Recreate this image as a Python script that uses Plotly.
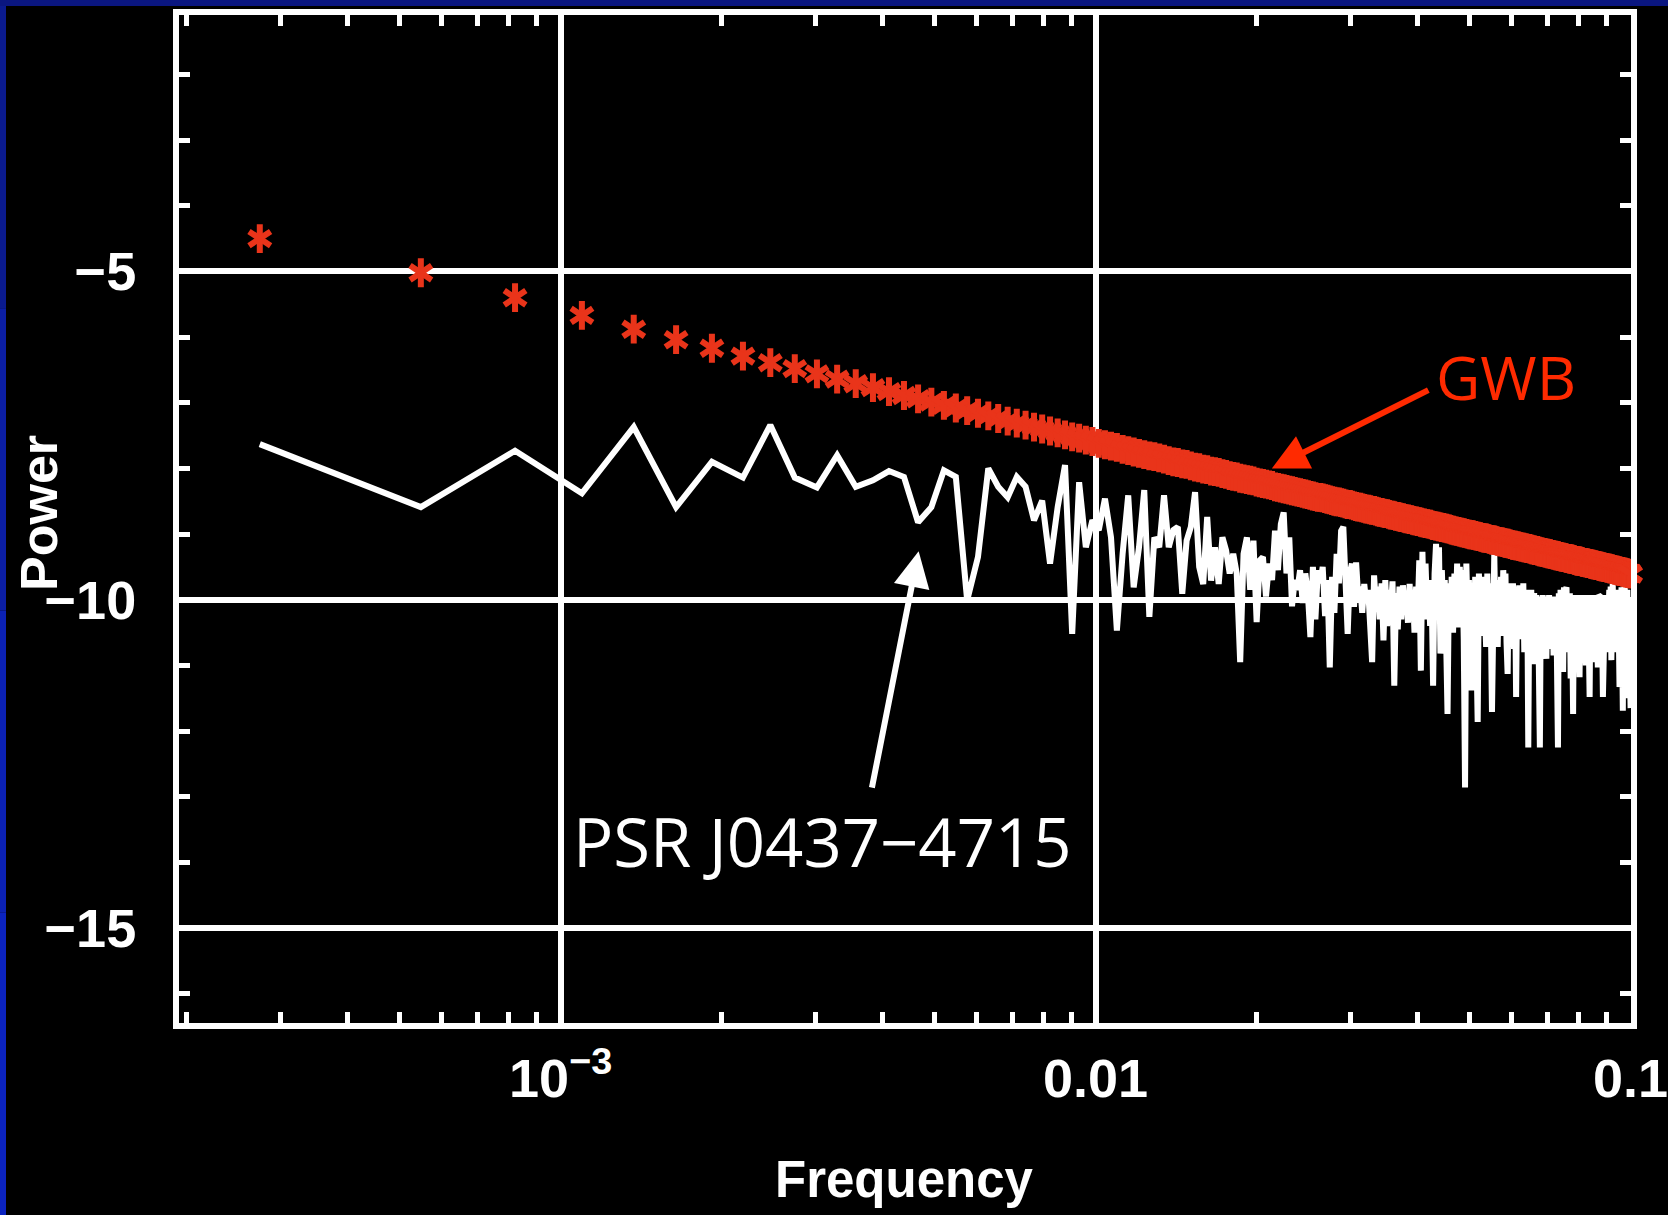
import math
import plotly.graph_objects as go

# Periodogram harmonics: k / T with T = 3650 days
SPAN_DAYS = 3650.0
harmonic = list(range(1, 366))
freq = [k / SPAN_DAYS for k in harmonic]

# log power of the pulsar timing residuals, one value per harmonic
psr_power = [
    -7.63, -8.59, -7.73, -8.38, -7.37, -8.59, -7.90, -8.14, -7.34, -8.14,
    -8.29, -7.80, -8.28, -8.18, -8.04, -8.13, -8.82, -8.59, -8.03, -8.13,
    -10.01, -9.35, -8.00, -8.28, -8.44, -8.13, -8.28, -8.79, -8.49, -9.45,
    -8.59, -7.95, -10.52, -8.21, -9.20, -8.79, -8.94, -8.46, -9.05, -10.47,
    -9.30, -8.41, -9.81, -9.20, -8.33, -10.26, -9.05, -9.20, -8.41, -9.20,
    -8.94, -8.89, -9.91, -9.10, -8.89, -8.36, -9.50, -9.76, -8.74, -9.71,
    -9.20, -9.76, -9.05, -9.25, -9.60, -9.30, -9.60, -10.95, -9.30, -9.05,
    -9.85, -9.10, -10.34, -9.40, -9.35, -9.95, -9.45, -9.70, -8.95, -9.55,
    -8.85, -8.67, -9.60, -9.05, -10.10, -9.70, -9.85, -9.55, -10.05, -9.60,
    -9.90, -10.57, -9.50, -10.30, -9.55, -9.75, -9.50, -10.25, -9.70, -11.03,
    -9.65, -10.20, -9.30, -9.75, -8.95, -8.89, -9.70, -10.52, -9.60, -9.45,
    -10.11, -9.43, -9.95, -9.80, -10.20, -9.76, -10.05, -9.85, -10.40, -10.95,
    -9.63, -10.10, -9.80, -10.30, -9.75, -10.62, -9.70, -10.40, -9.85, -10.20,
    -9.72, -11.31, -9.90, -10.45, -9.80, -10.30, -9.78, -10.15, -9.90, -10.35,
    -9.76, -10.25, -9.85, -10.50, -9.80, -10.20, -9.40, -11.08, -9.27, -10.30,
    -9.45, -10.15, -9.70, -10.40, -9.85, -11.31, -9.60, -9.15, -10.25, -9.20,
    -10.82, -9.55, -10.30, -9.70, -10.60, -11.74, -9.75, -10.40, -9.65, -10.50,
    -9.60, -10.20, -9.45, -10.42, -9.50, -10.30, -9.55, -10.60, -12.86, -9.45,
    -10.25, -9.70, -10.50, -11.38, -9.75, -10.30, -9.65, -10.70, -11.86, -9.60,
    -10.35, -9.70, -10.55, -9.65, -10.20, -10.72, -9.60, -10.45, -9.75, -10.30,
    -11.71, -9.55, -9.30, -10.35, -9.70, -10.72, -9.80, -10.40, -9.65, -10.55,
    -9.55, -10.30, -9.60, -10.65, -11.13, -9.75, -10.40, -9.80, -10.55, -9.75,
    -10.75, -9.85, -11.48, -9.80, -10.50, -9.78, -10.60, -9.90, -10.45, -9.75,
    -10.80, -9.85, -10.55, -9.90, -12.25, -9.95, -10.60, -9.85, -10.40, -10.98,
    -9.90, -10.70, -9.93, -10.45, -9.95, -10.85, -12.25, -9.95, -10.55, -9.93,
    -10.70, -10.00, -10.50, -10.90, -9.95, -10.60, -9.93, -10.75, -10.00, -10.45,
    -9.95, -10.85, -9.98, -10.55, -9.95, -10.70, -12.25, -9.90, -10.60, -9.85,
    -10.45, -9.88, -11.10, -9.81, -10.50, -9.85, -9.81, -10.65, -9.95, -10.80,
    -9.90, -11.20, -9.95, -10.60, -11.74, -9.93, -10.55, -9.98, -10.85, -9.93,
    -10.50, -10.00, -11.18, -9.93, -10.65, -9.95, -10.90, -9.93, -10.55, -10.00,
    -11.00, -9.95, -10.70, -9.93, -10.50, -11.48, -9.95, -10.60, -9.93, -10.85,
    -10.00, -10.45, -9.93, -10.95, -9.98, -10.60, -11.03, -9.93, -10.50, -9.95,
    -10.75, -9.93, -10.55, -11.48, -9.95, -10.65, -9.93, -10.45, -9.98, -10.80,
    -9.90, -10.55, -9.85, -10.70, -9.80, -10.92, -9.76, -9.76, -10.50, -9.85,
    -10.65, -9.90, -10.45, -9.85, -10.80, -9.90, -10.55, -11.33, -9.85, -10.60,
    -9.81, -10.75, -11.69, -9.85, -10.55, -9.81, -11.20, -9.90, -11.50, -9.85,
    -11.40, -10.00, -11.55, -10.10, -11.65,
]

# log power of the gravitational-wave background model at the same harmonics
gwb_power = [
    -4.50, -5.02, -5.40, -5.67, -5.88, -6.04, -6.17, -6.29, -6.39, -6.48,
    -6.56, -6.64, -6.71, -6.77, -6.83, -6.89, -6.94, -6.99, -7.04, -7.08,
    -7.12, -7.16, -7.20, -7.24, -7.28, -7.31, -7.34, -7.37, -7.40, -7.43,
    -7.46, -7.49, -7.52, -7.54, -7.57, -7.59, -7.62, -7.64, -7.66, -7.68,
    -7.71, -7.73, -7.75, -7.77, -7.79, -7.81, -7.82, -7.84, -7.86, -7.88,
    -7.90, -7.91, -7.93, -7.94, -7.96, -7.98, -7.99, -8.01, -8.02, -8.04,
    -8.05, -8.06, -8.08, -8.09, -8.11, -8.12, -8.13, -8.15, -8.16, -8.17,
    -8.18, -8.19, -8.21, -8.22, -8.23, -8.24, -8.25, -8.26, -8.28, -8.29,
    -8.30, -8.31, -8.32, -8.33, -8.34, -8.35, -8.36, -8.37, -8.38, -8.39,
    -8.40, -8.41, -8.42, -8.43, -8.44, -8.44, -8.45, -8.46, -8.47, -8.48,
    -8.49, -8.50, -8.51, -8.51, -8.52, -8.53, -8.54, -8.55, -8.55, -8.56,
    -8.57, -8.58, -8.59, -8.59, -8.60, -8.61, -8.62, -8.62, -8.63, -8.64,
    -8.64, -8.65, -8.66, -8.67, -8.67, -8.68, -8.69, -8.69, -8.70, -8.71,
    -8.71, -8.72, -8.73, -8.73, -8.74, -8.75, -8.75, -8.76, -8.77, -8.77,
    -8.78, -8.78, -8.79, -8.80, -8.80, -8.81, -8.81, -8.82, -8.83, -8.83,
    -8.84, -8.84, -8.85, -8.85, -8.86, -8.87, -8.87, -8.88, -8.88, -8.89,
    -8.89, -8.90, -8.90, -8.91, -8.91, -8.92, -8.92, -8.93, -8.94, -8.94,
    -8.95, -8.95, -8.96, -8.96, -8.97, -8.97, -8.98, -8.98, -8.99, -8.99,
    -9.00, -9.00, -9.01, -9.01, -9.01, -9.02, -9.02, -9.03, -9.03, -9.04,
    -9.04, -9.05, -9.05, -9.06, -9.06, -9.06, -9.07, -9.07, -9.08, -9.08,
    -9.09, -9.09, -9.09, -9.10, -9.10, -9.11, -9.11, -9.12, -9.12, -9.12,
    -9.13, -9.13, -9.14, -9.14, -9.14, -9.15, -9.15, -9.16, -9.16, -9.17,
    -9.17, -9.17, -9.18, -9.18, -9.18, -9.19, -9.19, -9.20, -9.20, -9.20,
    -9.21, -9.21, -9.21, -9.22, -9.22, -9.22, -9.23, -9.23, -9.24, -9.24,
    -9.24, -9.25, -9.25, -9.25, -9.26, -9.26, -9.27, -9.27, -9.27, -9.28,
    -9.28, -9.28, -9.29, -9.29, -9.29, -9.30, -9.30, -9.30, -9.31, -9.31,
    -9.31, -9.32, -9.32, -9.32, -9.33, -9.33, -9.33, -9.34, -9.34, -9.34,
    -9.35, -9.35, -9.35, -9.36, -9.36, -9.36, -9.37, -9.37, -9.37, -9.37,
    -9.38, -9.38, -9.38, -9.39, -9.39, -9.39, -9.40, -9.40, -9.40, -9.41,
    -9.41, -9.41, -9.41, -9.42, -9.42, -9.42, -9.43, -9.43, -9.43, -9.43,
    -9.44, -9.44, -9.44, -9.45, -9.45, -9.45, -9.45, -9.46, -9.46, -9.46,
    -9.47, -9.47, -9.47, -9.47, -9.48, -9.48, -9.48, -9.48, -9.49, -9.49,
    -9.49, -9.50, -9.50, -9.50, -9.50, -9.51, -9.51, -9.51, -9.51, -9.52,
    -9.52, -9.52, -9.52, -9.53, -9.53, -9.53, -9.53, -9.54, -9.54, -9.54,
    -9.55, -9.55, -9.55, -9.55, -9.56, -9.56, -9.56, -9.56, -9.57, -9.57,
    -9.57, -9.57, -9.58, -9.58, -9.58, -9.58, -9.59, -9.59, -9.59, -9.59,
    -9.60, -9.60, -9.60, -9.60, -9.61,
]

assert len(psr_power) == len(freq) == len(gwb_power)

# axis ticks
x_major = [1e-3, 1e-2, 1e-1]
x_major_text = ["10<sup>\u22123</sup>", "0.01", "0.1"]
x_minor = [m * d for d in (1e-4, 1e-3, 1e-2) for m in range(2, 10)]
y_major = [-15, -10, -5]
y_major_text = ["\u221215", "\u221210", "\u22125"]
y_minor = [-16, -14, -13, -12, -11, -9, -8, -7, -6, -4, -3, -2]

# where the two arrows point
gwb_arrow_tip = (0.02135, -8.00)
psr_arrow_tip = (0.004669, -9.26)

WHITE = "white"
GWB_RED = "#e9341a"
LABEL_RED = "#ff2a00"
IDL_FONT = "Liberation Sans, Arial, Helvetica, sans-serif"
SLIDE_FONT = "Open Sans, Noto Sans, sans-serif"

fig = go.Figure()

fig.add_trace(go.Scatter(
    x=freq, y=psr_power, mode="lines",
    line=dict(color=WHITE, width=6),
    hoverinfo="skip",
))

# six-armed asterisks: overlay of an upward and a downward "Y"
for sym in ("y-up-open", "y-down-open"):
    fig.add_trace(go.Scatter(
        x=freq, y=gwb_power, mode="markers",
        marker=dict(symbol=sym, size=18, color=GWB_RED,
                    line=dict(color=GWB_RED, width=6)),
        cliponaxis=False,
        hoverinfo="skip",
    ))

W, H = 1668, 1215
ML, MR, MT, MB = 179, 37, 15, 192
PW, PH = W - ML - MR, H - MT - MB


def px_x(px):
    return (px - ML) / PW


def px_y(py):
    return (H - MB - py) / PH


axis_common = dict(
    showline=True, linecolor=WHITE, linewidth=6, mirror="allticks",
    showgrid=True, gridcolor=WHITE, gridwidth=6,
    ticks="", zeroline=False, ticklabeloverflow="allow",
    tickfont=dict(family=IDL_FONT, size=54, color=WHITE, weight="bold"),
)

fig.update_xaxes(
    type="log", range=[-3.7133, -0.99925],
    tickmode="array", tickvals=x_major, ticktext=x_major_text,
    minor=dict(tickmode="array", tickvals=x_minor, ticks="inside",
               ticklen=11, tickwidth=5, tickcolor=WHITE, showgrid=False),
    ticklabelstandoff=3,
    **axis_common,
)
fig.update_yaxes(
    range=[-16.446, -1.095],
    tickmode="array", tickvals=y_major, ticktext=y_major_text,
    minor=dict(tickmode="array", tickvals=y_minor, ticks="inside",
               ticklen=11, tickwidth=5, tickcolor=WHITE, showgrid=False),
    ticklabelstandoff=26,
    **axis_common,
)

annotations = [
    dict(text="Power", textangle=-90, xref="paper", yref="paper",
         x=px_x(39), y=px_y(513), xanchor="center", yanchor="middle",
         showarrow=False,
         font=dict(family=IDL_FONT, size=52, color=WHITE, weight="bold")),
    dict(text="Frequency", xref="paper", yref="paper",
         x=px_x(904), y=px_y(1149), xanchor="center", yanchor="top",
         showarrow=False,
         font=dict(family=IDL_FONT, size=51, color=WHITE, weight="bold")),
    dict(text="GWB", xref="paper", yref="paper",
         x=px_x(1434), y=px_y(333), xanchor="left", yanchor="top",
         showarrow=False, font=dict(family=SLIDE_FONT, size=61, color=LABEL_RED)),
    dict(text="PSR J0437\u22124715", xref="paper", yref="paper",
         x=px_x(822), y=px_y(793), xanchor="center", yanchor="top",
         showarrow=False, font=dict(family=SLIDE_FONT, size=67, color=WHITE)),
    dict(text="", xref="x", yref="y",
         x=math.log10(gwb_arrow_tip[0]), y=gwb_arrow_tip[1],
         ax=158, ay=-79, showarrow=True, arrowhead=2, arrowsize=1.2,
         arrowwidth=6, arrowcolor=LABEL_RED),
    dict(text="", xref="x", yref="y",
         x=math.log10(psr_arrow_tip[0]), y=psr_arrow_tip[1],
         ax=-47, ay=238, showarrow=True, arrowhead=2, arrowsize=1.2,
         arrowwidth=6, arrowcolor=WHITE),
]

# blue slide border along the top and left edges
shapes = [
    dict(type="rect", xref="paper", yref="paper", layer="above",
         x0=px_x(0), x1=px_x(W), y0=px_y(6), y1=px_y(0),
         fillcolor="#0a1680", line=dict(width=0)),
]
blues = ["#0a1a8e", "#0b1ea4", "#0b21b4", "#0b23c0"]
for i, c in enumerate(blues):
    shapes.append(dict(type="rect", xref="paper", yref="paper", layer="above",
                       x0=px_x(0), x1=px_x(6),
                       y0=px_y(6 + (i + 1) * (H - 6) / 4),
                       y1=px_y(6 + i * (H - 6) / 4),
                       fillcolor=c, line=dict(width=0)))

fig.update_layout(
    width=W, height=H,
    margin=dict(l=ML, r=MR, t=MT, b=MB, autoexpand=False),
    paper_bgcolor="black", plot_bgcolor="black",
    showlegend=False,
    annotations=annotations,
    shapes=shapes,
)

fig.write_html("out.html")
